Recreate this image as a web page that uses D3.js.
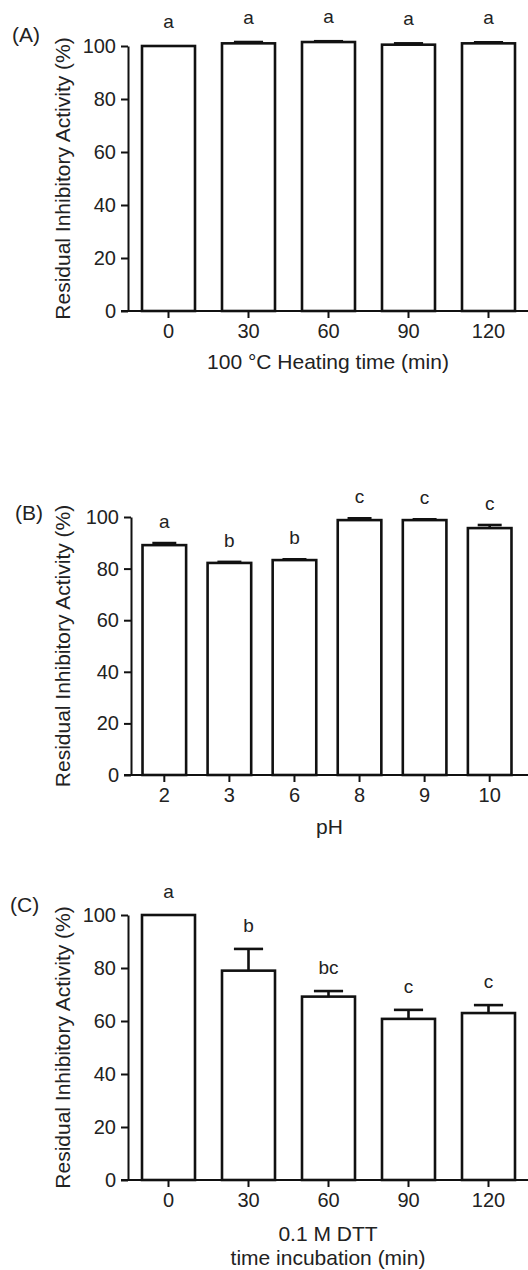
<!DOCTYPE html>
<html lang="en">
<head>
    <meta charset="UTF-8">
    <title>Residual Inhibitory Activity</title>
    <script src="https://d3js.org/d3.v7.min.js"></script>
    <style>
        body { margin: 0; background: #fff; }
        svg { display: block; }
        text { font-family: Arial, "Liberation Sans", sans-serif; fill: #222; }
        .bar { fill: #fff; stroke: #111; stroke-width: 2.6; }
        .err { stroke: #111; stroke-width: 2.6; fill: none; }
        .axis-line { stroke: #111; stroke-width: 2; fill: none; }
        .tick-lab { font-size: 20px; }
        .title { font-size: 21px; }
        .letter { font-size: 19px; text-anchor: middle; }
    </style>
</head>
<body>
    <svg id="chart"></svg>

    <script>
        // data
        const heatTimes = ["0", "30", "60", "90", "120"];
        const heatValues = [100, 101, 101.5, 100.5, 101];
        const heatErrors = [0, 0.5, 0.3, 0.5, 0.4];
        const heatLetters = ["a", "a", "a", "a", "a"];

        const phLevels = ["2", "3", "6", "8", "9", "10"];
        const phValues = [89.1, 82.2, 83.3, 98.8, 98.8, 95.7];
        const phErrors = [0.8, 0.4, 0.3, 0.7, 0.3, 1.2];
        const phLetters = ["a", "b", "b", "c", "c", "c"];

        const dttTimes = ["0", "30", "60", "90", "120"];
        const dttValues = [100, 79, 69.2, 60.8, 63];
        const dttErrors = [0, 8.2, 2.1, 3.4, 3.0];
        const dttLetters = ["a", "b", "bc", "c", "c"];

        const yTicks = [0, 20, 40, 60, 80, 100];
        const yTitle = "Residual Inhibitory Activity (%)";

        const W = 528, H = 1270;
        const svg = d3.select("#chart").attr("width", W).attr("height", H);

        // layout for each panel
        const panels = [
            { tag: "(A)", tagX: 12, tagY: 42, cats: heatTimes, vals: heatValues, errs: heatErrors, lets: heatLetters,
              axisX: 128, y0: 311, y100: 46, padIn: 0.3375, padOut: 0.175, right: 529, letOff: 18,
              xTitle: ["100 °C Heating time (min)"], xTitleY: [369] },
            { tag: "(B)", tagX: 15, tagY: 520, cats: phLevels, vals: phValues, errs: phErrors, lets: phLetters,
              axisX: 131, y0: 775, y100: 517, padIn: 0.33, padOut: 0.177, right: 523, letOff: 15,
              xTitle: ["pH"], xTitleY: [834] },
            { tag: "(C)", tagX: 10, tagY: 912, cats: dttTimes, vals: dttValues, errs: dttErrors, lets: dttLetters,
              axisX: 128, y0: 1180, y100: 915, padIn: 0.3375, padOut: 0.175, right: 529, letOff: 17,
              xTitle: ["0.1 M DTT", "time incubation (min)"], xTitleY: [1241, 1265] }
        ];

        panels.forEach(p => {
            const g = svg.append("g");
            const x = d3.scaleBand().domain(p.cats).range([p.axisX, p.right])
                .paddingInner(p.padIn).paddingOuter(p.padOut);
            const y = d3.scaleLinear().domain([0, 100]).range([p.y0, p.y100]);
            const rows = p.cats.map((c, i) => ({ c, v: p.vals[i], e: p.errs[i], l: p.lets[i] }));

            // bars
            g.selectAll("rect.bar").data(rows).enter().append("rect")
                .attr("class", "bar")
                .attr("x", d => x(d.c))
                .attr("width", x.bandwidth())
                .attr("y", d => y(d.v))
                .attr("height", d => y(0) - y(d.v));

            // upper error bars
            const capW = x.bandwidth() * 0.55;
            const withErr = rows.filter(d => d.e > 0);
            g.selectAll("line.stem").data(withErr).enter().append("line")
                .attr("class", "err")
                .attr("x1", d => x(d.c) + x.bandwidth() / 2).attr("x2", d => x(d.c) + x.bandwidth() / 2)
                .attr("y1", d => y(d.v)).attr("y2", d => y(d.v + d.e));
            g.selectAll("line.cap").data(withErr).enter().append("line")
                .attr("class", "err")
                .attr("x1", d => x(d.c) + x.bandwidth() / 2 - capW / 2)
                .attr("x2", d => x(d.c) + x.bandwidth() / 2 + capW / 2)
                .attr("y1", d => y(d.v + d.e)).attr("y2", d => y(d.v + d.e));

            // significance letters
            g.selectAll("text.letter").data(rows).enter().append("text")
                .attr("class", "letter")
                .attr("x", d => x(d.c) + x.bandwidth() / 2)
                .attr("y", d => y(d.v + d.e) - p.letOff)
                .text(d => d.l);

            // y axis
            const ya = g.append("g").attr("transform", `translate(${p.axisX},0)`)
                .call(d3.axisLeft(y).tickValues(yTicks).tickSize(7).tickPadding(5).tickSizeOuter(0));
            ya.select(".domain").attr("stroke-width", 2).attr("stroke", "#111");
            ya.selectAll(".tick line").attr("stroke-width", 2).attr("stroke", "#111");
            ya.selectAll(".tick text").attr("class", "tick-lab").attr("font-size", null)
                .attr("font-family", null).attr("fill", null);

            // x axis
            g.append("line").attr("class", "axis-line")
                .attr("x1", p.axisX - 7).attr("x2", W)
                .attr("y1", y(0)).attr("y2", y(0));
            const xa = g.append("g").attr("transform", `translate(0,${y(0)})`)
                .call(d3.axisBottom(x).tickSize(7).tickPadding(6).tickSizeOuter(0));
            xa.select(".domain").remove();
            xa.selectAll(".tick line").attr("stroke-width", 2).attr("stroke", "#111");
            xa.selectAll(".tick text").attr("class", "tick-lab").attr("font-size", null)
                .attr("font-family", null).attr("fill", null);

            // titles
            g.append("text").attr("class", "title")
                .attr("transform", `translate(70,${(p.y0 + p.y100) / 2}) rotate(-90)`)
                .attr("text-anchor", "middle")
                .text(yTitle);
            p.xTitle.forEach((t, i) => {
                g.append("text").attr("class", "title")
                    .attr("x", (p.axisX + W) / 2).attr("y", p.xTitleY[i])
                    .attr("text-anchor", "middle").text(t);
            });
            g.append("text").attr("class", "title")
                .attr("x", p.tagX).attr("y", p.tagY).text(p.tag);
        });
    </script>
</body>
</html>
